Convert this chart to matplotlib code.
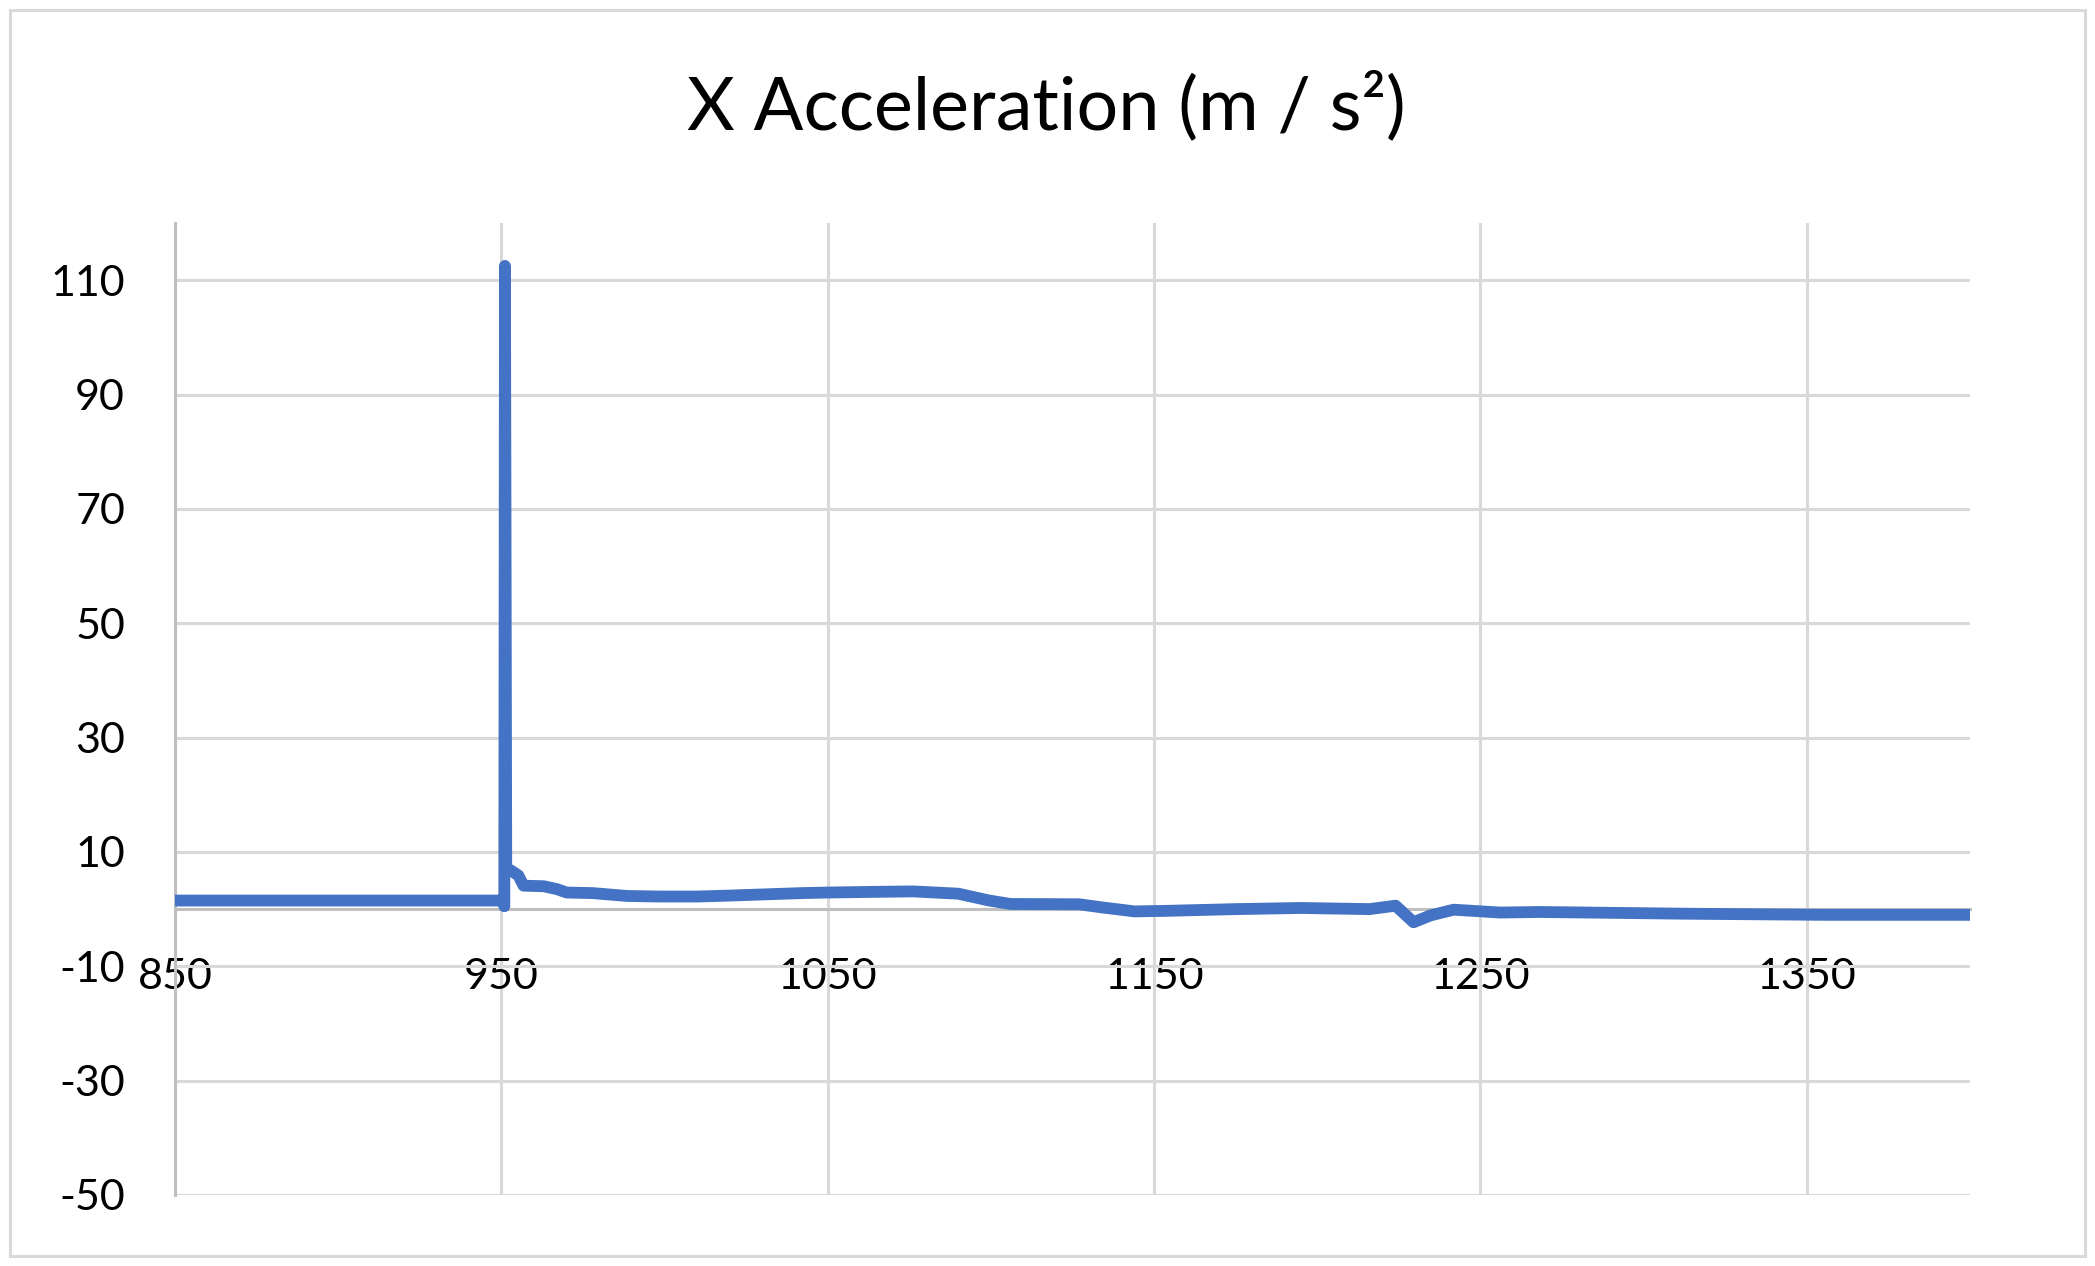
import matplotlib
matplotlib.use("Agg")
import matplotlib.pyplot as plt
from matplotlib.patches import Rectangle

plt.rcParams['font.family'] = ['Lato', 'DejaVu Sans']

# Data
time_x = [850, 950.5, 950.9, 951.1, 951.5, 952.8, 955.2, 956.8, 963, 967, 970,
          978, 988.5, 999, 1010, 1019, 1042, 1050, 1062, 1076, 1090, 1099.5,
          1106, 1127, 1134, 1144, 1154, 1175, 1195, 1216, 1224, 1229.5, 1234.7,
          1241.8, 1256, 1268, 1312, 1355, 1400]
accel_x = [1.5, 1.5, 0.5, 112.5, 6.8, 6.8, 5.9, 4.1, 4.0, 3.5, 2.9,
           2.8, 2.3, 2.2, 2.2, 2.35, 2.8, 2.9, 3.0, 3.1, 2.7, 1.5,
           0.9, 0.85, 0.3, -0.4, -0.3, 0.0, 0.2, 0.0, 0.6, -2.3, -1.1,
           -0.1, -0.6, -0.5, -0.8, -1.0, -1.0]
x_ticks = [850, 950, 1050, 1150, 1250, 1350]
y_ticks = [-50, -30, -10, 10, 30, 50, 70, 90, 110]
title = "X Acceleration (m / s²)"

W, H = 2095, 1266
fig = plt.figure(figsize=(W / 100, H / 100), dpi=100)
fig.patch.set_facecolor('white')

ax = fig.add_axes([175 / W, 1 - 1195 / H, (1970 - 175) / W, (1195 - 223) / H])
ax.plot(time_x, accel_x, color='#4472C4', lw=8.5, solid_joinstyle='round',
        solid_capstyle='round', zorder=3)

ax.set_xlim(850, 1400)
ax.set_ylim(-50, 120)
ax.set_xticks(x_ticks)
ax.set_yticks(y_ticks)
ax.set_xticklabels([str(v) for v in x_ticks])
ax.set_yticklabels([str(v) for v in y_ticks])

ax.grid(True, color='#D9D9D9', lw=2.2, zorder=0)
ax.set_axisbelow(True)

for s in ['top', 'right']:
    ax.spines[s].set_visible(False)
ax.spines['left'].set_color('#BFBFBF')
ax.spines['left'].set_linewidth(2.2)
ax.spines['bottom'].set_position(('data', 0))
ax.spines['bottom'].set_color('#BFBFBF')
ax.spines['bottom'].set_linewidth(2.2)

ax.tick_params(axis='both', length=0, labelsize=31, colors='black')
ax.tick_params(axis='y', pad=36)
ax.tick_params(axis='x', pad=35)

fig.text(1046 / W, 1 - 107 / H, title, ha='center', va='center', fontsize=53)

fig.add_artist(Rectangle((10 / W, 10 / H), 2075 / W, 1246 / H, transform=fig.transFigure,
                         fill=False, edgecolor='#D9D9D9', lw=2.2))

fig.savefig('out.png', dpi=100)
